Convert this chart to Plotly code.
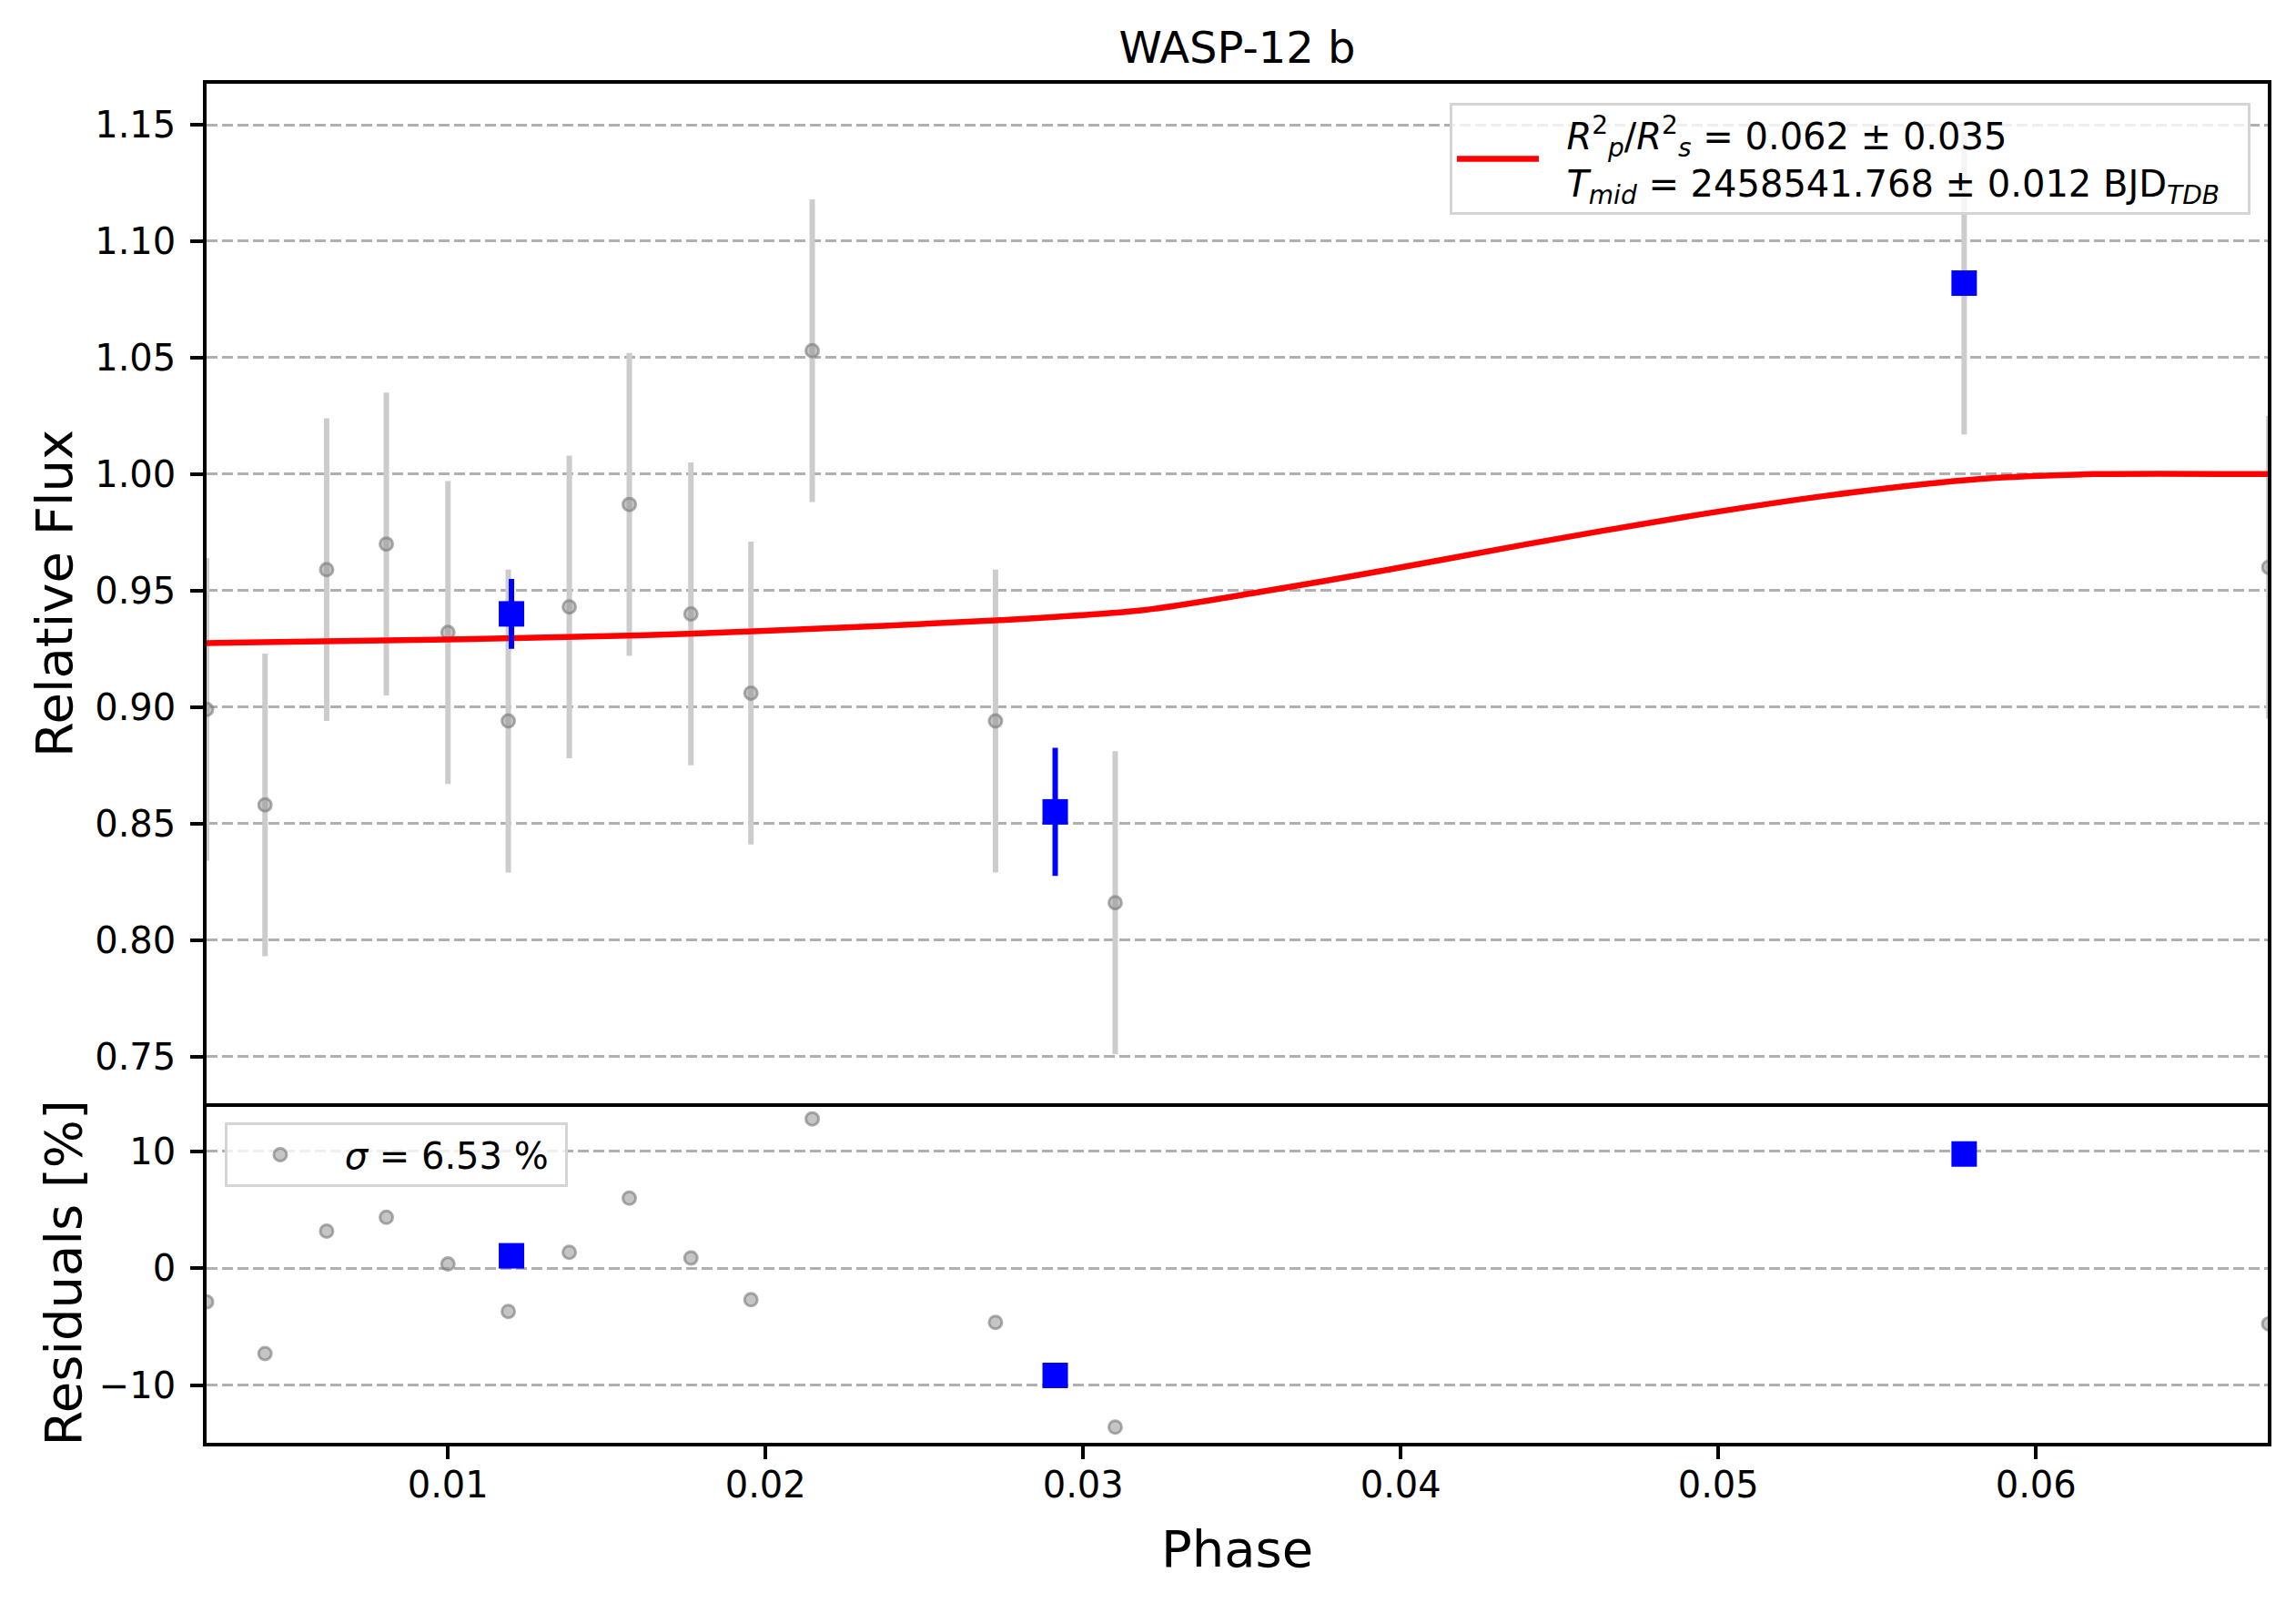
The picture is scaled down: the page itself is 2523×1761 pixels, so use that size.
import plotly.graph_objects as go
from plotly.subplots import make_subplots

# Unbinned measurements (phase, relative flux, error, residual in %)
phase = [0.00240, 0.00424, 0.00618, 0.00806, 0.01000, 0.01190, 0.01382, 0.01571,
         0.01765, 0.01954, 0.02147, 0.02724, 0.03101, 0.05774, 0.06733]
flux = [0.899, 0.858, 0.959, 0.970, 0.932, 0.894, 0.943, 0.987,
        0.940, 0.906, 1.053, 0.894, 0.816, 1.082, 0.960]
flux_err = [0.065, 0.065, 0.065, 0.065, 0.065, 0.065, 0.065, 0.065,
            0.065, 0.065, 0.065, 0.065, 0.065, 0.065, 0.065]
residuals = [-2.87, -7.28, 3.17, 4.35, 0.36, -3.69, 1.36, 5.98,
             0.88, -2.69, 12.75, -4.62, -13.56, 9.75, -4.75]

# Binned points
bin_phase = [0.0120, 0.02912, 0.05774]
bin_flux = [0.940, 0.855, 1.082]
bin_err = [0.015, 0.0275, 0.0]
bin_residuals = [1.06, -9.15, 9.75]

# Transit model
model_phase = [0.0024, 0.0100, 0.0160, 0.0200, 0.0274, 0.0319, 0.0357, 0.0393,
               0.0440, 0.0488, 0.0535, 0.0583, 0.0618, 0.0673]
model_flux = [0.9275, 0.9290, 0.9308, 0.9327, 0.9373, 0.9416, 0.9497, 0.9582,
              0.9700, 0.9813, 0.9909, 0.9980, 1.0000, 1.0000]

y_ticks = [0.75, 0.80, 0.85, 0.90, 0.95, 1.00, 1.05, 1.10, 1.15]
res_ticks = [-10, 0, 10]
x_ticks = [0.01, 0.02, 0.03, 0.04, 0.05, 0.06]

pad = "\u00a0\u00a0"
model_label = (pad + "<i>R</i><sup>2</sup><sub><i>p</i></sub>/<i>R</i><sup>2</sup><sub><i>s</i></sub>"
               " = 0.062 ± 0.035<br>" + pad + "<i>T</i><sub><i>mid</i></sub> = 2458541.768 ± 0.012 "
               "BJD<sub><i>TDB</i></sub>\u00a0\u00a0")
sigma_label = "\u00a0<i>σ</i> = 6.53 %\u00a0"

FONT = "DejaVu Sans"

fig = make_subplots(rows=2, cols=1, shared_xaxes=True,
                    row_heights=[0.75, 0.25], vertical_spacing=0)

gray_marker = dict(symbol="circle", size=14, color="rgba(150,150,150,0.55)",
                   line=dict(color="rgba(120,120,120,0.6)", width=3))

# top panel
fig.add_trace(go.Scatter(x=phase, y=flux, mode="markers", marker=gray_marker,
                         error_y=dict(type="data", array=flux_err, color="#cccccc",
                                      thickness=6, width=0),
                         showlegend=False), row=1, col=1)
fig.add_trace(go.Scatter(x=model_phase, y=model_flux, mode="lines",
                         line=dict(color="red", width=6.5, shape="spline", smoothing=0.8),
                         name=model_label, legend="legend"), row=1, col=1)
fig.add_trace(go.Scatter(x=bin_phase, y=bin_flux, mode="markers",
                         marker=dict(symbol="square", size=28, color="blue"),
                         error_y=dict(type="data", array=bin_err, color="blue",
                                      thickness=6, width=0),
                         showlegend=False), row=1, col=1)

# residual panel
fig.add_trace(go.Scatter(x=phase, y=residuals, mode="markers", marker=gray_marker,
                         name=sigma_label, legend="legend2"), row=2, col=1)
fig.add_trace(go.Scatter(x=bin_phase, y=bin_residuals, mode="markers",
                         marker=dict(symbol="square", size=28, color="blue"),
                         showlegend=False), row=2, col=1)

axis_common = dict(showline=True, linecolor="black", linewidth=3.5,
                   ticks="outside", ticklen=14, tickwidth=3.5, tickcolor="black",
                   tickfont=dict(family=FONT, size=40, color="black"),
                   zeroline=False)

fig.update_xaxes(range=[0.0024, 0.0673], tickvals=x_ticks, showgrid=False, **axis_common)
fig.update_xaxes(showticklabels=False, ticks="", mirror=True, row=1, col=1)
fig.update_xaxes(tickformat=".2f", mirror=False, ticklabelstandoff=-6, row=2, col=1,
                 title=dict(text="Phase", standoff=30,
                            font=dict(family=FONT, size=56, color="black")))

fig.update_yaxes(range=[0.730, 1.1676], tickvals=y_ticks, tickformat=".2f", mirror=True,
                 showgrid=True, gridcolor="#b0b0b0", gridwidth=3, griddash="12px,5px",
                 ticklabelstandoff=8,
                 title=dict(text="Relative Flux", standoff=8,
                            font=dict(family=FONT, size=56, color="black")),
                 row=1, col=1, **axis_common)
fig.update_yaxes(range=[-14.9, 14.1], tickvals=res_ticks, mirror=True,
                 showgrid=True, gridcolor="#b0b0b0", gridwidth=3, griddash="12px,5px",
                 ticklabelstandoff=8,
                 title=dict(text="Residuals [%]", standoff=2,
                            font=dict(family=FONT, size=56, color="black")),
                 row=2, col=1, **axis_common)

fig.update_layout(
    width=2523, height=1761,
    margin=dict(l=219, r=39, t=84, b=184),
    paper_bgcolor="white", plot_bgcolor="white",
    font=dict(family=FONT, size=40, color="black"),
    title=dict(text="WASP-12 b", x=0.5, xref="paper", xanchor="center",
               y=1 - 44 / 1761, yref="container", yanchor="middle",
               font=dict(family=FONT, size=48, color="black")),
    legend=dict(x=0.9916, xanchor="right", y=0.986, yanchor="top",
                bgcolor="rgba(255,255,255,0.8)", bordercolor="#d5d5d5", borderwidth=3,
                font=dict(family=FONT, size=40, color="black"),
                itemwidth=90, valign="middle"),
    legend2=dict(x=0.0088, xanchor="left", y=0.2358, yanchor="top",
                 bgcolor="rgba(255,255,255,0.8)", bordercolor="#d5d5d5", borderwidth=3,
                 font=dict(family=FONT, size=40, color="black"),
                 itemwidth=106, valign="middle"),
)

fig.write_html("out.html")
